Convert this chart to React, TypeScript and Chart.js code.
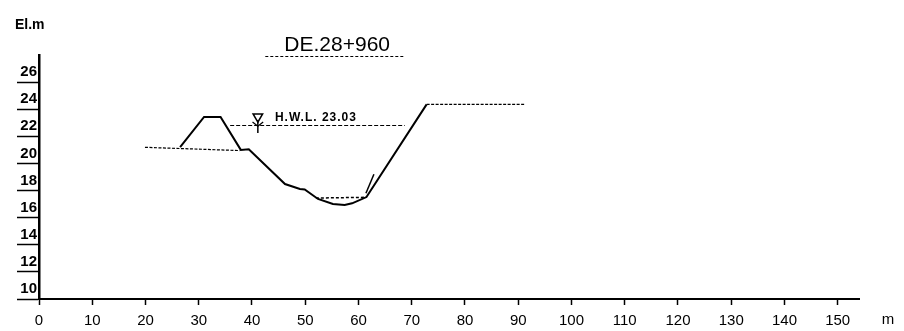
import React, { useEffect, useRef } from 'react';
import { Chart, registerables } from 'chart.js';

Chart.register(...registerables);

// ---- data (metres) ----
const xTickValues = [0, 10, 20, 30, 40, 50, 60, 70, 80, 90, 100, 110, 120, 130, 140, 150];
const yTickValues = [10, 12, 14, 16, 18, 20, 22, 24, 26];

const groundX = [26.5, 31.0, 34.1, 37.9, 39.4, 46.2, 49.0, 49.9, 52.4, 55.2, 57.4, 58.8, 61.5, 72.8];
const groundY = [21.2, 23.43, 23.43, 21.0, 21.04, 18.48, 18.11, 18.08, 17.38, 17.01, 16.93, 17.06, 17.52, 24.36];

const bermX = [72.8, 91.2];
const bermY = [24.36, 24.36];

const oldGroundX = [19.9, 37.7];
const oldGroundY = [21.19, 20.95];

const hwlX = [35.9, 68.7];
const hwlY = [22.8, 22.8];

const lowWaterX = [52.0, 61.5];
const lowWaterY = [17.45, 17.5];

const slopeMarkX = [61.4, 62.9];
const slopeMarkY = [17.8, 19.2];

const markerX = [41.1];
const markerY = [23.45];
const stemX = [41.1, 41.1];
const stemY = [23.2, 22.25];
const yArmX = [40.1, 41.1, 42.1];
const yArmY = [23.05, 22.75, 23.05];

const hwlLabel = 'H.W.L. 23.03';
const titleText = 'DE.28+960';
const yUnit = 'El.m';
const xUnit = 'm';

const pts = (xs: number[], ys: number[]) => xs.map((x, i) => ({ x, y: ys[i] }));

const textPlugin = {
  id: 'texts',
  afterDraw(chart: any) {
    const { ctx, scales } = chart;
    const xs = scales.x;
    const ys = scales.y;
    ctx.save();
    ctx.fillStyle = '#000';
    // title
    ctx.font = '21px "Liberation Sans", Arial, sans-serif';
    ctx.textAlign = 'center';
    ctx.textBaseline = 'middle';
    const tx = (xs.getPixelForValue(45) + xs.getPixelForValue(67)) / 2;
    ctx.fillText(titleText, tx, 45);
    ctx.strokeStyle = '#000';
    ctx.lineWidth = 1;
    ctx.setLineDash([3, 2]);
    ctx.beginPath();
    ctx.moveTo(xs.getPixelForValue(42.5), 56.5);
    ctx.lineTo(xs.getPixelForValue(68.7), 56.5);
    ctx.stroke();
    ctx.setLineDash([]);
    // y unit
    ctx.font = 'bold 14px "Liberation Sans", Arial, sans-serif';
    ctx.textAlign = 'left';
    ctx.fillText(yUnit, 15, 25);
    // x unit
    ctx.font = '15px "Liberation Sans", Arial, sans-serif';
    ctx.textAlign = 'center';
    ctx.fillText(xUnit, 888, xs.bottom - 11);
    // HWL label
    ctx.font = 'bold 12px "Liberation Sans", Arial, sans-serif';
    ctx.textAlign = 'left';
    (ctx as any).letterSpacing = '1px';
    ctx.fillText(hwlLabel, xs.getPixelForValue(44.3), ys.getPixelForValue(23.35));
    ctx.restore();
  },
};

export default function App() {
  const ref = useRef<HTMLCanvasElement | null>(null);
  useEffect(() => {
    if (!ref.current) return;
    const thinDot = { borderColor: '#000', borderWidth: 1.2, borderDash: [3, 1.5], pointRadius: 0, showLine: true, tension: 0 };
    const chart = new Chart(ref.current, {
      type: 'line',
      data: {
        datasets: [
          { data: pts(oldGroundX, oldGroundY), ...thinDot },
          { data: pts(groundX, groundY), borderColor: '#000', borderWidth: 2, pointRadius: 0, tension: 0 },
          { data: pts(bermX, bermY), ...thinDot },
          { data: pts(hwlX, hwlY), ...thinDot, borderDash: [4, 2] },
          { data: pts(lowWaterX, lowWaterY), borderColor: '#000', borderWidth: 1.5, borderDash: [3, 2], pointRadius: 0 },
          { data: pts(slopeMarkX, slopeMarkY), borderColor: '#000', borderWidth: 1.5, pointRadius: 0 },
          { data: pts(stemX, stemY), borderColor: '#000', borderWidth: 1.5, pointRadius: 0 },
          { data: pts(yArmX, yArmY), borderColor: '#000', borderWidth: 1.3, pointRadius: 0 },
          {
            data: pts(markerX, markerY),
            showLine: false,
            pointStyle: 'triangle',
            rotation: 180,
            pointRadius: 5.5,
            pointBackgroundColor: '#fff',
            pointBorderColor: '#000',
            pointBorderWidth: 1.5,
          } as any,
        ],
      },
      options: {
        animation: false,
        responsive: false,
        events: [],
        layout: { padding: { left: 0, top: 55, right: 45, bottom: 0 } },
        plugins: { legend: { display: false }, tooltip: { enabled: false }, title: { display: false } },
        scales: {
          x: {
            type: 'linear',
            min: 0,
            max: 154,
            afterFit: (s: any) => { s.height = 32; },
            afterBuildTicks: (s: any) => { s.ticks = xTickValues.map((v) => ({ value: v })); },
            ticks: {
              includeBounds: false,
              color: '#000',
              padding: 7,
              maxRotation: 0,
              autoSkip: false,
              font: { family: '"Liberation Sans", Arial, sans-serif', size: 15 },
            },
            grid: { drawOnChartArea: false, tickLength: 6, tickColor: '#000', tickWidth: 1.5 },
            border: { color: '#000', width: 2 },
          },
          y: {
            type: 'linear',
            min: 10,
            max: 28,
            afterFit: (s: any) => { s.width = 39; },
            afterBuildTicks: (s: any) => { s.ticks = yTickValues.map((v) => ({ value: v })); },
            ticks: {
              includeBounds: false,
              color: '#000',
              padding: -20,
              labelOffset: -10,
              autoSkip: false,
              font: { family: '"Liberation Sans", Arial, sans-serif', size: 15, weight: 'bold' },
            },
            grid: { drawOnChartArea: false, tickLength: 22, tickColor: '#000', tickWidth: 1.5 },
            border: { color: '#000', width: 2.5 },
          },
        },
      } as any,
      plugins: [textPlugin],
    });
    return () => chart.destroy();
  }, []);
  return (
    <div style={{ position: 'fixed', left: 0, top: 0, width: 904, height: 331, background: '#fff' }}>
      <canvas ref={ref} width={904} height={331} style={{ display: 'block' }} />
    </div>
  );
}
